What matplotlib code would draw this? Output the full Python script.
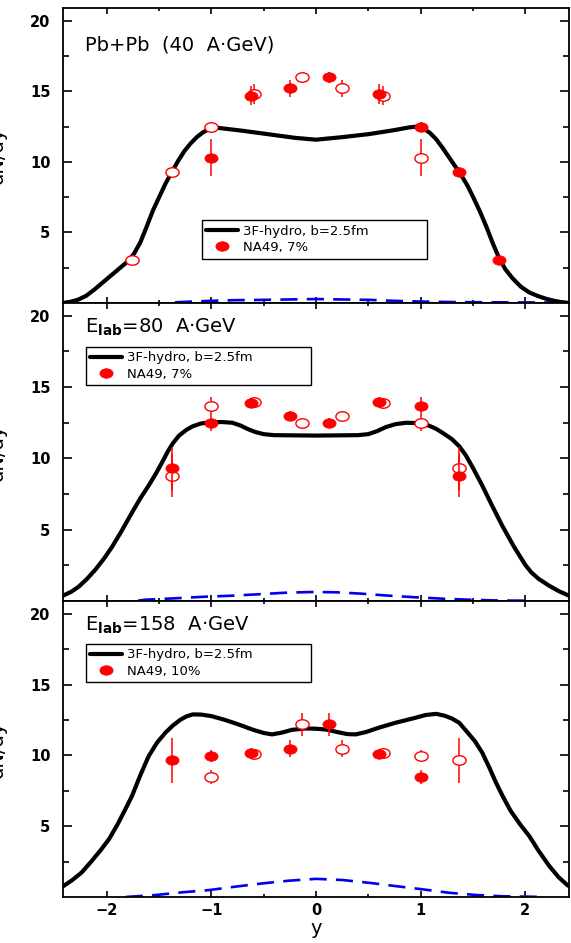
import numpy as np
import matplotlib
matplotlib.use('Agg')
import matplotlib.pyplot as plt
from matplotlib.path import Path

# ---- 40 A GeV ----
hydro40_x = [-2.42, -2.35, -2.28, -2.20, -2.12, -2.04, -1.96, -1.88, -1.80, -1.74, -1.68, -1.62, -1.56, -1.50,
             -1.44, -1.38, -1.32, -1.26, -1.20, -1.14, -1.08, -1.02, -0.95, -0.70, -0.45, -0.20, 0.0, 0.25,
             0.51, 0.75, 0.89, 0.97, 1.03, 1.09, 1.15, 1.21, 1.27, 1.33, 1.39, 1.45, 1.51, 1.57, 1.63, 1.69,
             1.75, 1.81, 1.88, 1.96, 2.04, 2.12, 2.20, 2.28, 2.35, 2.42]
hydro40_y = [0.0, 0.08, 0.22, 0.5, 0.95, 1.45, 1.95, 2.45, 2.95, 3.5, 4.3, 5.4, 6.55, 7.5,
             8.45, 9.27, 10.05, 10.75, 11.3, 11.75, 12.1, 12.32, 12.42, 12.2, 11.95, 11.7, 11.57, 11.75,
             11.97, 12.25, 12.44, 12.5, 12.35, 12.05, 11.6, 11.0, 10.35, 9.7, 9.05, 8.3, 7.4, 6.45, 5.4, 4.25,
             3.2, 2.4, 1.75, 1.15, 0.75, 0.5, 0.3, 0.15, 0.06, 0.0]
dash40_x = [-1.35, -1.02, -0.77, -0.51, -0.26, 0.0, 0.25, 0.51, 0.76, 1.02, 1.3, 1.6, 2.0, 2.35]
dash40_y = [0.05, 0.15, 0.2, 0.22, 0.25, 0.28, 0.25, 0.22, 0.15, 0.1, 0.07, 0.05, 0.04, 0.03]
na49_40_x = [-1.0, -0.62, -0.25, 0.12, 0.60, 1.0, 1.37, 1.75]
na49_40_y = [10.3, 14.7, 15.2, 16.0, 14.8, 12.5, 9.3, 3.05]
na49_40_err = [1.3, 0.7, 0.6, 0.4, 0.7, 0.35, 0.3, 0.2]
refl40_x = [1.0, 0.64, 0.25, -0.13, -0.59, -1.0, -1.38, -1.76]
refl40_y = [10.3, 14.7, 15.2, 16.0, 14.8, 12.5, 9.3, 3.05]
refl40_err = [1.3, 0.7, 0.6, 0.4, 0.7, 0.35, 0.3, 0.2]

# ---- 80 A GeV ----
hydro80_x = [-2.42, -2.34, -2.27, -2.19, -2.11, -2.03, -1.95, -1.86, -1.76, -1.68, -1.60, -1.53, -1.47, -1.42,
             -1.37, -1.31, -1.24, -1.18, -1.10, -1.0, -0.9, -0.8, -0.72, -0.65, -0.58, -0.5, -0.4, 0.0,
             0.4, 0.5, 0.58, 0.67, 0.76, 0.86, 1.0, 1.08, 1.15, 1.22, 1.30, 1.37, 1.43, 1.50, 1.59, 1.68,
             1.78, 1.89, 2.0, 2.06, 2.13, 2.23, 2.32, 2.42]
hydro80_y = [0.37, 0.65, 1.0, 1.55, 2.2, 2.95, 3.8, 4.9, 6.2, 7.2, 8.1, 8.95, 9.75, 10.45,
             11.05, 11.6, 12.0, 12.25, 12.45, 12.54, 12.55, 12.5, 12.3, 12.05, 11.85, 11.7, 11.63, 11.6,
             11.63, 11.7, 11.9, 12.2, 12.4, 12.5, 12.47, 12.3, 12.07, 11.75, 11.35, 10.85, 10.25, 9.35, 8.1, 6.75,
             5.3, 3.85, 2.55, 2.0, 1.55, 1.07, 0.7, 0.37]
dash80_x = [-1.7, -1.63, -1.34, -1.06, -0.8, -0.55, -0.29, -0.03, 0.19, 0.44, 0.7, 0.95, 1.21, 1.46, 1.7, 2.0]
dash80_y = [0.03, 0.09, 0.19, 0.3, 0.37, 0.47, 0.58, 0.63, 0.61, 0.51, 0.37, 0.26, 0.16, 0.09, 0.04, 0.02]
na49_80_x = [-1.38, -1.0, -0.62, -0.25, 0.12, 0.60, 1.0, 1.37]
na49_80_y = [9.3, 12.5, 13.9, 13.0, 12.5, 13.95, 13.7, 8.8]
na49_80_err = [1.5, 0.6, 0.35, 0.35, 0.3, 0.35, 0.6, 1.5]
refl80_x = [1.37, 1.0, 0.64, 0.25, -0.13, -0.59, -1.0, -1.38]
refl80_y = [9.3, 12.5, 13.9, 13.0, 12.5, 13.95, 13.7, 8.8]
refl80_err = [1.5, 0.6, 0.35, 0.35, 0.3, 0.35, 0.6, 1.5]

# ---- 158 A GeV ----
hydro158_x = [-2.42, -2.33, -2.24, -2.15, -2.06, -1.98, -1.90, -1.83, -1.76, -1.68, -1.60, -1.52, -1.44, -1.37,
              -1.30, -1.24, -1.18, -1.10, -1.0, -0.87, -0.74, -0.6, -0.5, -0.42, -0.33, -0.23, -0.1, 0.0,
              0.1, 0.2, 0.3, 0.38, 0.48, 0.6, 0.76, 0.95, 1.05, 1.15, 1.23, 1.30, 1.37, 1.44, 1.52, 1.59,
              1.66, 1.72, 1.78, 1.86, 1.95, 2.04, 2.13, 2.23, 2.32, 2.41]
hydro158_y = [0.75, 1.2, 1.74, 2.5, 3.3, 4.08, 5.1, 6.1, 7.13, 8.6, 9.95, 10.9, 11.6, 12.1,
              12.5, 12.75, 12.89, 12.88, 12.77, 12.5, 12.18, 11.8, 11.58, 11.48, 11.6, 11.8, 11.9, 11.88,
              11.82, 11.65, 11.5, 11.48, 11.65, 11.95, 12.3, 12.65, 12.85, 12.93, 12.8, 12.6, 12.3, 11.7, 11.0, 10.19,
              9.1, 8.1, 7.2, 6.1, 5.15, 4.3, 3.25, 2.2, 1.4, 0.8]
dash158_x = [-1.82, -1.53, -1.28, -1.02, -0.77, -0.51, -0.26, 0.0, 0.25, 0.51, 0.76, 1.02, 1.27, 1.53, 1.78, 2.2]
dash158_y = [0.0, 0.14, 0.33, 0.49, 0.73, 0.96, 1.15, 1.28, 1.2, 1.0, 0.77, 0.54, 0.3, 0.14, 0.05, 0.0]
na49_158_x = [-1.38, -1.0, -0.62, -0.25, 0.12, 0.60, 1.0]
na49_158_y = [9.65, 9.95, 10.15, 10.47, 12.18, 10.07, 8.47]
na49_158_err = [1.6, 0.4, 0.35, 0.6, 0.8, 0.35, 0.5]
refl158_x = [1.37, 1.0, 0.64, 0.25, -0.13, -0.59, -1.0]
refl158_y = [9.65, 9.95, 10.15, 10.47, 12.18, 10.07, 8.47]
refl158_err = [1.6, 0.4, 0.35, 0.6, 0.8, 0.35, 0.5]

titles = ["Pb+Pb  (40  A\u00b7GeV)",
          "E$_{\\mathbf{lab}}$=80  A\u00b7GeV",
          "E$_{\\mathbf{lab}}$=158  A\u00b7GeV"]
hydro_label = "3F-hydro, b=2.5fm"
na49_labels = ["NA49, 7%", "NA49, 7%", "NA49, 10%"]

# squashed circle, the markers in the original are wider than tall
circ = Path.unit_circle()
ellipse = Path(circ.vertices * np.array([1.0, 0.72]), circ.codes)

fig = plt.figure(figsize=(5.71, 9.43), dpi=100)
# [left, bottom, width, height] in figure fraction
boxes = [[0.1103, 0.6787, 0.8862, 0.3128],
         [0.1103, 0.3627, 0.8862, 0.3160],
         [0.1103, 0.0488, 0.8862, 0.3139]]
title_y = [0.855, 0.899, 0.900]
legend_anchor = [(0.274, 0.281, 0.445, 0.0),
                 (0.045, 0.853, 0.446, 0.0),
                 (0.045, 0.856, 0.446, 0.0)]

panels = [
    (hydro40_x, hydro40_y, dash40_x, dash40_y, na49_40_x, na49_40_y, na49_40_err, refl40_x, refl40_y, refl40_err),
    (hydro80_x, hydro80_y, dash80_x, dash80_y, na49_80_x, na49_80_y, na49_80_err, refl80_x, refl80_y, refl80_err),
    (hydro158_x, hydro158_y, dash158_x, dash158_y, na49_158_x, na49_158_y, na49_158_err, refl158_x, refl158_y, refl158_err),
]

for i, (hx, hy, dx, dy, fx, fy, fe, ox, oy, oe) in enumerate(panels):
    ax = fig.add_axes(boxes[i])
    ax.plot(dx, dy, color='#0000ee', lw=1.9, dashes=(6.5, 3.5), zorder=2)
    ax.plot(hx, hy, color='black', lw=3.0, solid_joinstyle='round', solid_capstyle='round',
            label=hydro_label, zorder=3)
    ax.errorbar(ox, oy, yerr=oe, fmt='none', ecolor='red', elinewidth=1.1, capsize=0, zorder=4)
    ax.plot(ox, oy, ls='none', marker=ellipse, ms=9.5, mfc='white', mec='red', mew=1.0, zorder=5)
    ax.errorbar(fx, fy, yerr=fe, fmt='none', ecolor='red', elinewidth=1.1, capsize=0, zorder=6)
    ax.plot(fx, fy, ls='none', marker=ellipse, ms=9.5, mfc='red', mec='red', mew=0.5,
            label=na49_labels[i], zorder=7)

    ax.set_xlim(-2.42, 2.42)
    ax.set_ylim(0, 20.9)
    ax.set_xticks([-2, -1, 0, 1, 2])
    ax.set_xticks([-1.5, -0.5, 0.5, 1.5], minor=True)
    ax.set_yticks([5, 10, 15, 20])
    ax.set_yticks([2.5, 7.5, 12.5, 17.5], minor=True)
    for s in ax.spines.values():
        s.set_linewidth(1.3)
    ax.tick_params(axis='both', which='both', direction='in', top=True, right=True, width=1.2)
    ax.tick_params(axis='x', which='major', length=4)
    ax.tick_params(axis='x', which='minor', length=2.5)
    ax.tick_params(axis='y', which='major', length=6.5, pad=9)
    ax.tick_params(axis='y', which='minor', length=4.3)
    ax.tick_params(axis='both', labelsize=10.5)
    for lab in ax.get_yticklabels() + ax.get_xticklabels():
        lab.set_fontweight('bold')
    if i < 2:
        ax.tick_params(axis='x', labelbottom=False)
    else:
        ax.tick_params(axis='x', pad=4)
        ax.set_xlabel('y', fontsize=14, labelpad=1)

    ax.text(0.0435, title_y[i], titles[i], transform=ax.transAxes, fontsize=14,
            ha='left', va='baseline')

    leg = ax.legend(loc='upper left', bbox_to_anchor=legend_anchor[i], mode='expand',
                    fontsize=9.5, frameon=True, fancybox=False, framealpha=1,
                    edgecolor='black', handlelength=2.4, handletextpad=0.4,
                    borderpad=0.35, labelspacing=0.25, borderaxespad=0)
    leg.get_frame().set_linewidth(1.0)

    # y axis title, cut by the page edge as in the original
    fig.text(-0.005, boxes[i][1] + boxes[i][3] / 2, 'dN/dy', rotation=90, fontsize=14,
             ha='center', va='center')

fig.savefig('out.png', dpi=100)
